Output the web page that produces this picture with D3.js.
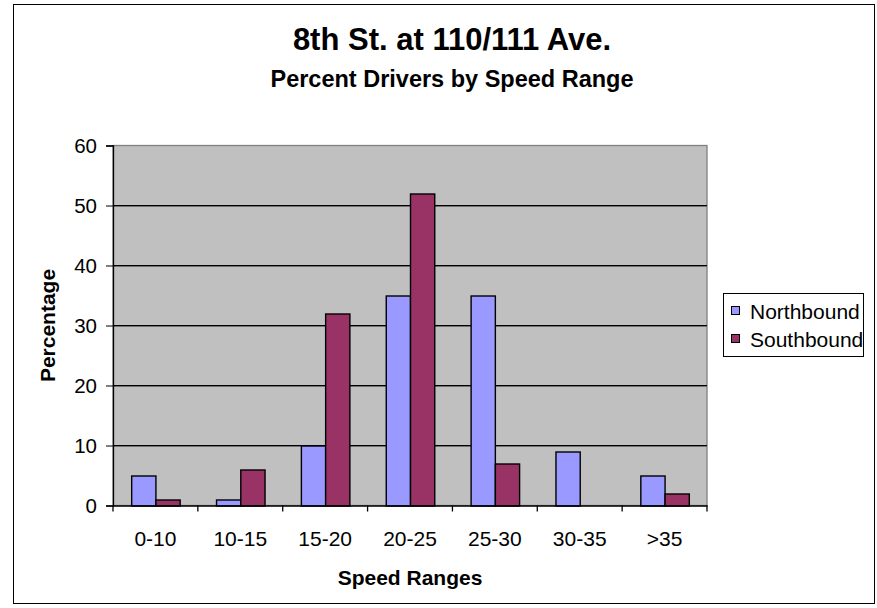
<!DOCTYPE html>
<html><head><meta charset="utf-8">
<script src="https://cdn.jsdelivr.net/npm/d3@7"></script>
<style>body{margin:0;background:#fff}svg{display:block}text{font-family:"Liberation Sans",Arial,sans-serif}</style>
</head><body>
<svg id="c" width="877" height="608"></svg>
<script>
const categories = ["0-10","10-15","15-20","20-25","25-30","30-35",">35"];
const seriesNames = ["Northbound","Southbound"];
const northbound = [5,1,10,35,35,9,5];
const southbound = [1,6,32,52,7,0,2];
const yTicks = [0,10,20,30,40,50,60];
const colors = ["#9999FF","#993366"];
const titleText = "8th St. at 110/111 Ave.";
const subtitleText = "Percent Drivers by Speed Range";
const xTitle = "Speed Ranges";
const yTitle = "Percentage";

const svg = d3.select("#c");
const L = 113, T = 145.5, R = 707, B = 505.5;

svg.append("rect").attr("x",13.5).attr("y",4.5).attr("width",861).attr("height",599)
  .attr("fill","#fff").attr("stroke","#000").attr("stroke-width",1);

const x = d3.scaleBand().domain(categories).range([L,R]).padding(0);
const xs = d3.scaleBand().domain(seriesNames).range([0,x.bandwidth()]).paddingInner(0).paddingOuter(0.75);
const y = d3.scaleLinear().domain([0,60]).range([B,T]);

svg.append("rect").attr("x",L).attr("y",T).attr("width",R-L).attr("height",B-T)
  .attr("fill","#C0C0C0").attr("stroke","#808080").attr("stroke-width",1.3);

// gridlines
const g = svg.append("g");
yTicks.filter(v=>v>0 && v<60).forEach(v=>{
  g.append("line").attr("x1",L).attr("x2",R).attr("y1",y(v)+1).attr("y2",y(v)+1).attr("stroke","#707070").attr("stroke-width",1);
  g.append("line").attr("x1",L).attr("x2",R).attr("y1",y(v)).attr("y2",y(v)).attr("stroke","#000").attr("stroke-width",1);
});

const data = categories.map((c,i)=>({c, vals:[northbound[i],southbound[i]]}));
const grp = svg.append("g");
data.forEach(d=>{
  d.vals.forEach((v,j)=>{
    if (v<=0) return;
    const bx = x(d.c)+xs(seriesNames[j]);
    grp.append("rect").attr("x",bx+0.5).attr("y",y(v)+0.5)
      .attr("width",xs.bandwidth()).attr("height",y(0)-y(v))
      .attr("fill",colors[j]).attr("stroke","#000").attr("stroke-width",1.4);
  });
});

// axes
const yAxis = d3.axisLeft(y).tickValues(yTicks).tickSize(7).tickPadding(9);
const ya = svg.append("g").attr("transform",`translate(${L},0)`).call(yAxis);
ya.select(".domain").attr("stroke","#000").attr("stroke-width",1.3);
ya.selectAll(".tick line").attr("stroke","#000");
ya.selectAll("text").attr("font-size","20.5px").attr("fill","#000").attr("font-family","Liberation Sans, Arial, sans-serif");

const xAxis = d3.axisBottom(x).tickSize(0).tickPadding(26);
const xa = svg.append("g").attr("transform",`translate(0,${B})`).call(xAxis);
xa.select(".domain").attr("stroke","#000").attr("stroke-width",1.3);
xa.selectAll("text").attr("font-size","21px").attr("fill","#000").attr("font-family","Liberation Sans, Arial, sans-serif");
// category boundary ticks
const bounds = categories.map(c=>x(c)).concat([x(categories[categories.length-1])+x.bandwidth()]);
bounds.forEach(bx=>{
  xa.append("line").attr("x1",bx).attr("x2",bx).attr("y1",0).attr("y2",6).attr("stroke","#000").attr("stroke-width",1.3);
});

// titles
svg.append("text").attr("x",452).attr("y",50).attr("text-anchor","middle")
  .attr("font-size","31px").attr("font-weight","bold").text(titleText);
svg.append("text").attr("x",452).attr("y",86.5).attr("text-anchor","middle")
  .attr("font-size","23.5px").attr("font-weight","bold").text(subtitleText);
svg.append("text").attr("x",(L+R)/2).attr("y",585).attr("text-anchor","middle")
  .attr("font-size","21px").attr("font-weight","bold").text(xTitle);
svg.append("text").attr("transform",`translate(55,${(T+B)/2}) rotate(-90)`).attr("text-anchor","middle")
  .attr("font-size","21px").attr("font-weight","bold").text(yTitle);

// legend
const lg = svg.append("g");
lg.append("rect").attr("x",723.5).attr("y",293.5).attr("width",140).attr("height",63)
  .attr("fill","#fff").attr("stroke","#000").attr("stroke-width",1);
seriesNames.forEach((n,i)=>{
  const cy = 311 + i*28;
  lg.append("rect").attr("x",731.5).attr("y",cy-4.5).attr("width",8).attr("height",8)
    .attr("fill",colors[i]).attr("stroke","#000").attr("stroke-width",1);
  lg.append("text").attr("x",750).attr("y",cy+7.5).attr("font-size","21px").text(n);
});
</script>
</body></html>
